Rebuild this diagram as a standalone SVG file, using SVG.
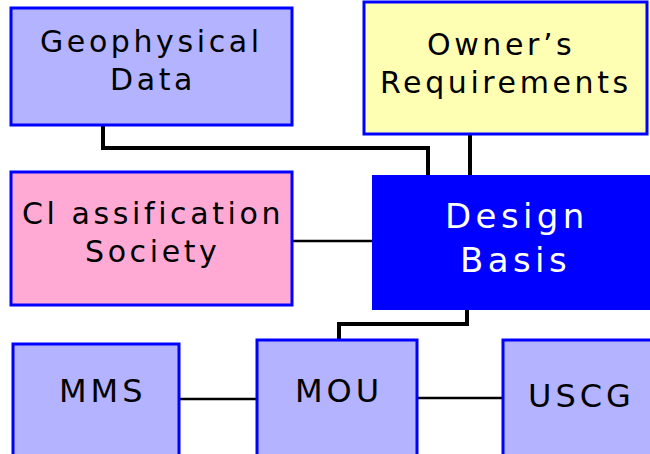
<svg xmlns="http://www.w3.org/2000/svg" width="650" height="454" viewBox="0 0 650 454">
<style>
.box{stroke:#0000ff;stroke-width:3}
.blue{fill:#b3b3ff}
.t{font-family:"DejaVu Sans",sans-serif;font-size:30px;letter-spacing:3.6px;fill:#000}
.w{fill:#fff;font-size:34px;letter-spacing:4.4px}
.b{font-size:32px;letter-spacing:4px}
.c{fill:none;stroke:#000}
</style>
<rect width="650" height="454" fill="#fff"/>
<g id="connectors">
<polyline class="c" stroke-width="4" points="103,123 103,148 428,148 428,175"/>
<line class="c" stroke-width="4" x1="470" y1="133" x2="470" y2="175"/>
<line class="c" stroke-width="2.5" x1="293" y1="241" x2="372" y2="241"/>
<polyline class="c" stroke-width="4" points="467,310 467,324 339,324 339,340"/>
<line class="c" stroke-width="2.5" x1="179" y1="399" x2="256" y2="399"/>
<line class="c" stroke-width="2.5" x1="418" y1="398" x2="503" y2="398"/>
</g>
<g id="geophysical">
<rect class="box blue" x="11" y="8" width="281" height="117"/>
<text class="t" x="40" y="52">Geophysical</text>
<text class="t" x="110" y="90">Data</text>
</g>
<g id="owners">
<rect class="box" fill="#ffffb3" x="364" y="2" width="283" height="132"/>
<text class="t" x="427" y="55">Owner’s</text>
<text class="t" x="380" y="93">Requirements</text>
</g>
<g id="classification">
<rect class="box" fill="#ffaad5" x="11" y="172" width="281" height="133"/>
<text class="t" x="22" y="224">Cl assification</text>
<text class="t" x="85" y="262">Society</text>
</g>
<g id="design">
<rect fill="#0000ff" x="372" y="175" width="278" height="135"/>
<text class="t w" x="445" y="228">Design</text>
<text class="t w" x="460" y="272">Basis</text>
</g>
<g id="mms">
<rect class="box blue" x="13" y="344" width="166" height="115"/>
<text class="t b" x="59" y="402">MMS</text>
</g>
<g id="mou">
<rect class="box blue" x="257" y="340" width="160" height="119"/>
<text class="t b" x="295" y="402">MOU</text>
</g>
<g id="uscg">
<rect class="box blue" x="503" y="340" width="150" height="119"/>
<text class="t b" x="528" y="407">USCG</text>
</g>
</svg>
